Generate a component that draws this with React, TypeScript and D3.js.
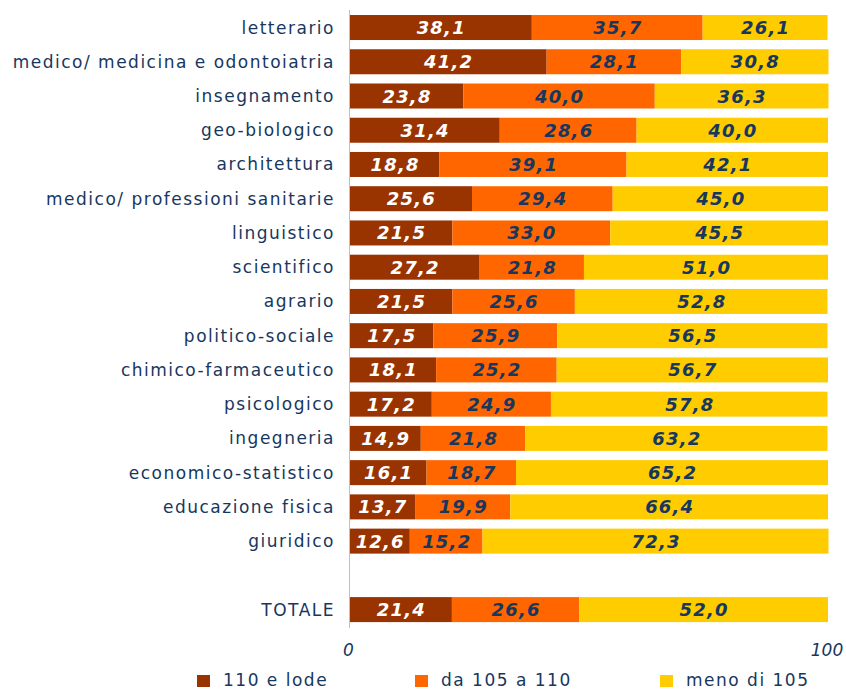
import React from "react";
import * as d3 from "d3";

const categories = [
  "letterario",
  "medico/ medicina e odontoiatria",
  "insegnamento",
  "geo-biologico",
  "architettura",
  "medico/ professioni sanitarie",
  "linguistico",
  "scientifico",
  "agrario",
  "politico-sociale",
  "chimico-farmaceutico",
  "psicologico",
  "ingegneria",
  "economico-statistico",
  "educazione fisica",
  "giuridico",
  "",
  "TOTALE",
];
const lode = [38.1, 41.2, 23.8, 31.4, 18.8, 25.6, 21.5, 27.2, 21.5, 17.5, 18.1, 17.2, 14.9, 16.1, 13.7, 12.6, null, 21.4];
const da105 = [35.7, 28.1, 40.0, 28.6, 39.1, 29.4, 33.0, 21.8, 25.6, 25.9, 25.2, 24.9, 21.8, 18.7, 19.9, 15.2, null, 26.6];
const meno105 = [26.1, 30.8, 36.3, 40.0, 42.1, 45.0, 45.5, 51.0, 52.8, 56.5, 56.7, 57.8, 63.2, 65.2, 66.4, 72.3, null, 52.0];
const seriesNames = ["110 e lode", "da 105 a 110", "meno di 105"];
const xTicks = [0, 100];

const colors = ["#993300", "#FF6600", "#FFCC00"];
const labelColors = ["#ffffff", "#17375E", "#17375E"];
const textColor = "#17375E";
const font = "DejaVu Sans, Verdana, sans-serif";

export default function App() {
  const W = 846, H = 690;
  const x = d3.scaleLinear().domain([0, 100]).range([349.5, 828]);
  const y = d3.scaleBand<string>()
    .domain(categories.map((c, i) => String(i)))
    .range([10.4, 10.4 + 18 * 34.24])
    .paddingInner(0.27)
    .paddingOuter(0.135);
  const fmt = (v: number) => v.toFixed(1).replace(".", ",");
  const series = [lode, da105, meno105];

  return (
    <svg width={W} height={H} style={{ position: "absolute", left: 0, top: 0 }}>
      <rect width={W} height={H} fill="#fff" />
      {categories.map((c, i) => {
        const y0 = y(String(i))!;
        const bh = y.bandwidth();
        let cum = 0;
        return (
          <g key={i}>
            <text x={335} y={y0 + bh / 2 + 6} textAnchor="end" fontFamily={font} fontSize={17} fill={textColor} letterSpacing={1.5}>
              {c}
            </text>
            {series.map((s, k) => {
              const v = s[i];
              if (v == null) return null;
              const a = cum;
              cum += v;
              const x0 = x(a), x1 = x(a + v);
              return (
                <g key={k}>
                  <rect x={x0} y={y0} width={x1 - x0} height={bh} fill={colors[k]} />
                  <text x={(x0 + x1) / 2 + 0.6} y={y0 + bh / 2 + 6.5} textAnchor="middle" fontFamily={font} fontSize={18} fontWeight="bold" fontStyle="italic" fill={labelColors[k]} letterSpacing={1.2}>
                    {fmt(v)}
                  </text>
                </g>
              );
            })}
          </g>
        );
      })}
      <line x1={349.5} x2={349.5} y1={10} y2={628} stroke="#BFBFBF" strokeWidth={1} />
      {xTicks.map((t) => (
        <text key={t} x={x(t) - 1} y={656} textAnchor="middle" fontFamily={font} fontSize={17} fontStyle="italic" fill={textColor}>
          {t}
        </text>
      ))}
      {seriesNames.map((n, k) => {
        const lx = [197, 415, 660][k];
        return (
          <g key={n}>
            <rect x={lx} y={675} width={13} height={12} fill={colors[k]} />
            <text x={lx + 26} y={686} fontFamily={font} fontSize={17} fill={textColor} letterSpacing={1.5}>
              {n}
            </text>
          </g>
        );
      })}
    </svg>
  );
}
